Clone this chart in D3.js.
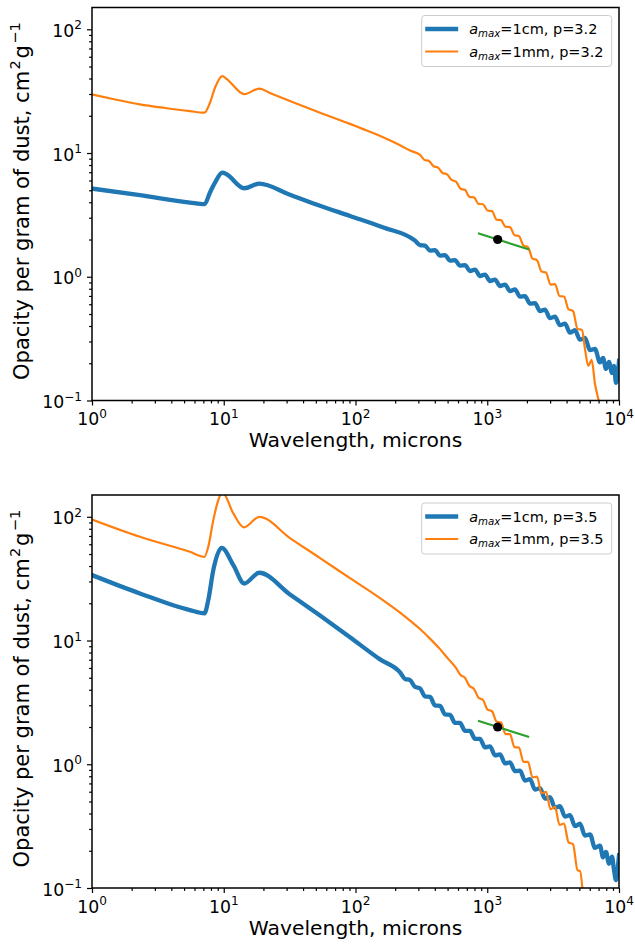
<!DOCTYPE html>
<html>
<head>
<meta charset="utf-8">
<script src="https://cdn.jsdelivr.net/npm/d3@7"></script>
<style>
  body { margin: 0; background: #fff; }
  text { font-family: "DejaVu Sans", sans-serif; fill: #000; }
</style>
</head>
<body>
<svg id="fig" width="635" height="944"></svg>
<script>

// [wavelength (microns), opacity (cm^2/g)]

// top panel, p=3.2
const cm_p32 = [[1,5.16],[2.31,4.56],[5.54,3.98],[7.14,3.86],[7.86,4.8],[8.58,5.77],[9.75,6.95],[10.5,6.73],
    [14.3,5.19],[18.6,5.66],[31.8,4.60],[53.8,3.75],[90.8,3.10],[163,2.50],
    [283,1.958],[309,1.802],[337,1.785],[368,1.627],[401,1.642],[438,1.483],[478,1.496],[522,1.351],
    [569,1.364],[621,1.231],[678,1.243],[740,1.112],[807,1.143],[881,1.013],[961,1.042],[1049,0.923],
    [1145,0.949],[1250,0.841],[1364,0.865],[1488,0.767],[1624,0.789],[1773,0.691],[1934,0.697],[2111,0.607],
    [2304,0.612],[2514,0.528],[2744,0.543],[2994,0.463],[3268,0.476],[3566,0.406],[3892,0.418],[4247,0.353],
    [4635,0.370],[5058,0.310],[5519,0.320],[6026,0.255],[6575,0.261],[7175,0.203],[7559,0.221],[7966,0.180],
    [8396,0.205],[8850,0.167],[9163,0.190],[9489,0.139],[9741,0.155],[10000,0.209]];

const mm_p32 = [[1,29.7],[1.5,27.1],[2.31,24.7],[3.58,23.1],[5.54,21.8],[7.14,21.2],[7.86,25.5],[8.58,33.7],
    [9.75,41.8],[10.5,39.8],[14.3,29.9],[18.6,33.2],[22.4,30.6],[31.8,26.3],[53.8,21.17],[90.8,17.2],
    [113,15.67],[140.6,14.31],[175,12.92],[217.7,11.56],[259.3,10.46],
    [309,9.654],[334,8.800],[361,8.638],[391,7.827],[423,7.627],[458,6.898],[495,6.722],[536,6.058],
    [579,5.881],[627,5.144],[678,5.040],[733,4.418],[793,4.377],[858,3.886],[928,3.857],[1004,3.432],
    [1087,3.394],[1176,2.893],[1272,2.866],[1376,2.540],[1488,2.517],[1610,2.169],[1742,2.129],[1884,1.785],
    [2038,1.736],[2205,1.402],[2385,1.364],[2581,1.101],[2792,1.081],[3021,0.865],[3268,0.873],[3535,0.699],
    [3824,0.692],[4138,0.545],[4476,0.529],[4842,0.379],[5238,0.372],[5519,0.261],[5848,0.1905],[6205,0.213],
    [6574,0.136],[6965,0.103],[7301,0.083]];

// bottom panel, p=3.5
const cm_p35 = [[1,33.8],[2.31,24.0],[5.54,17.6],[7.14,16.6],[7.63,21.2],[8.33,37.1],[9.65,56.1],[11.82,40.7],
    [14.3,28.9],[18.6,35.3],[31.8,23.6],[53.8,15.9],[90.8,10.63],[153.5,7.04],
    [218,5.522],[237.5,4.893],[259,4.803],[283,4.216],[309,4.108],[337,3.539],[368,3.507],[401,2.994],
    [438,2.966],[478,2.532],[522,2.508],[569,2.161],[621,2.161],[678,1.862],[740,1.862],[807,1.604],
    [881,1.604],[961,1.370],[1049,1.395],[1145,1.180],[1250,1.202],[1364,1.017],[1488,1.036],[1624,0.880],
    [1773,0.889],[1934,0.738],[2111,0.759],[2304,0.624],[2514,0.641],[2744,0.527],[2994,0.542],[3268,0.446],
    [3566,0.458],[3892,0.377],[4247,0.388],[4635,0.316],[5058,0.331],[5519,0.265],[6026,0.271],[6575,0.211],
    [7175,0.220],[7559,0.177],[7966,0.196],[8396,0.157],[8850,0.179],[9163,0.140],[9489,0.116],[9741,0.139],
    [10000,0.184]];

const mm_p35 = [[1,95],[2.31,68.9],[5.54,52.1],[7.14,47.5],[7.63,57.2],[8.33,94.0],[9.09,136.5],[9.75,158],
    [11.82,106.5],[14.24,82.1],[18.62,100],[31.8,67.3],[53.8,46.4],[90.8,31.9],[153.5,22.0],[217.7,16.8],
    [259.3,14.49],[308.9,12.4],[367.7,10.36],[437.9,8.52],[503.6,7.14],
    [579,6.016],[627,5.262],[678,4.995],[733,4.288],[793,4.070],[858,3.448],[928,3.310],[1004,2.768],
    [1087,2.682],[1176,2.214],[1272,2.174],[1376,1.754],[1488,1.751],[1610,1.375],[1742,1.362],[1884,1.044],
    [2038,1.046],[2205,0.782],[2385,0.795],[2581,0.583],[2792,0.598],[3021,0.434],[3268,0.452],[3535,0.324],
    [3824,0.332],[4138,0.234],[4476,0.226],[4842,0.139],[5058,0.137],[5332,0.0874]];

// reference slope line and the 1.2 mm point, same in both panels
const slope_line = [[850,2.25],[2080,1.66]];
const ref_point = [[1200,2.0]];

const x_ticks = [1, 10, 100, 1000, 10000];
const x_exps = ["0", "1", "2", "3", "4"];
const y_ticks = [0.1, 1, 10, 100];
const y_exps = ["\u22121", "0", "1", "2"];

const panels = [
    {top: 7.5, p: "3.2", cm: cm_p32, mm: mm_p32},
    {top: 495, p: "3.5", cm: cm_p35, mm: mm_p35},
];

const frame = {left: 92, right: 619, height: 393};
const colors = {cm: "#1f77b4", mm: "#ff7f0e", slope: "#2ca02c"};

const svg = d3.select("#fig");

function draw_panel(pn, i) {
    const bottom = pn.top + frame.height;
    const x = d3.scaleLog().domain([1, 1e4]).range([frame.left, frame.right]);
    const y = d3.scaleLog().domain([0.1, 150]).range([bottom, pn.top]);

    const g = svg.append("g").attr("class", "panel");

    g.append("clipPath").attr("id", "clip" + i)
        .append("rect")
            .attr("x", frame.left).attr("y", pn.top)
            .attr("width", frame.right - frame.left).attr("height", frame.height);

    const curve = d3.line().x(d => x(d[0])).y(d => y(d[1])).curve(d3.curveMonotoneX);
    const line = d3.line().x(d => x(d[0])).y(d => y(d[1]));
    const plot = g.append("g").attr("clip-path", "url(#clip" + i + ")");

    plot.append("path").datum(pn.cm)
        .attr("d", curve).attr("fill", "none")
        .attr("stroke", colors.cm).attr("stroke-width", 4.3)
        .attr("stroke-linejoin", "round").attr("stroke-linecap", "square");
    plot.append("path").datum(pn.mm)
        .attr("d", curve).attr("fill", "none")
        .attr("stroke", colors.mm).attr("stroke-width", 2.2)
        .attr("stroke-linejoin", "round").attr("stroke-linecap", "square");
    plot.append("path").datum(slope_line)
        .attr("d", line).attr("fill", "none")
        .attr("stroke", colors.slope).attr("stroke-width", 2.1);
    plot.selectAll("circle").data(ref_point).enter()
        .append("circle")
            .attr("cx", d => x(d[0])).attr("cy", d => y(d[1]))
            .attr("r", 4.6).attr("fill", "#000");

    // ticks: majors at decades, minors from the log scale
    const x_minor = x.ticks().filter(v => !x_ticks.includes(v));
    const y_minor = y.ticks().filter(v => !y_ticks.some(t => Math.abs(t - v) < 1e-9));

    const xa = g.append("g").attr("transform", "translate(0," + bottom + ")");
    xa.call(d3.axisBottom(x).tickValues(x_ticks).tickSize(5).tickFormat(""));
    xa.append("g").call(d3.axisBottom(x).tickValues(x_minor).tickSize(2.9).tickFormat(""));
    xa.selectAll(".domain").remove();
    xa.selectAll(".tick line").attr("stroke-width", 1.2);

    const ya = g.append("g").attr("transform", "translate(" + frame.left + ",0)");
    ya.call(d3.axisLeft(y).tickValues(y_ticks).tickSize(5).tickFormat(""));
    ya.append("g").call(d3.axisLeft(y).tickValues(y_minor).tickSize(2.9).tickFormat(""));
    ya.selectAll(".domain").remove();
    ya.selectAll(".tick line").attr("stroke-width", 1.2);

    g.append("rect")
        .attr("x", frame.left).attr("y", pn.top)
        .attr("width", frame.right - frame.left).attr("height", frame.height)
        .attr("fill", "none").attr("stroke", "#000").attr("stroke-width", 1.5);

    // tick labels as 10^n
    const xl = g.selectAll("text.xlab").data(x_ticks).enter()
        .append("text").attr("class", "xlab")
        .attr("x", d => x(d)).attr("y", bottom + 24.5)
        .attr("text-anchor", "middle").attr("font-size", 17.3);
    xl.append("tspan").text("10");
    xl.append("tspan").attr("dy", -7.5).attr("font-size", 12.1).text((d, j) => x_exps[j]);

    const yl = g.selectAll("text.ylab").data(y_ticks).enter()
        .append("text").attr("class", "ylab")
        .attr("x", 82).attr("y", d => y(d) + 7.5)
        .attr("text-anchor", "end").attr("font-size", 17.3);
    yl.append("tspan").text("10");
    yl.append("tspan").attr("dy", -7.5).attr("font-size", 12.1).text((d, j) => y_exps[j]);

    // axis titles
    g.append("text")
        .attr("x", (frame.left + frame.right) / 2).attr("y", bottom + 46.5)
        .attr("text-anchor", "middle").attr("font-size", 20.3)
        .text("Wavelength, microns");

    const yt = g.append("text")
        .attr("transform", "translate(28.5," + (pn.top + frame.height / 2 - 3) + ") rotate(-90)")
        .attr("text-anchor", "middle").attr("font-size", 21);
    yt.append("tspan").text("Opacity per gram of dust, cm");
    yt.append("tspan").attr("dx", 1.5).attr("dy", -8.5).attr("font-size", 14.7).text("2");
    yt.append("tspan").attr("dx", 1.5).attr("dy", 8.5).text("g");
    yt.append("tspan").attr("dx", 1.5).attr("dy", -8.5).attr("font-size", 14.7).text("\u22121");

    // legend
    const lg = g.append("g").attr("transform", "translate(421.7," + (pn.top + 8) + ")");
    lg.append("rect")
        .attr("width", 190).attr("height", 51).attr("rx", 3)
        .attr("fill", "#fff").attr("fill-opacity", 0.8)
        .attr("stroke", "#cccccc").attr("stroke-width", 1);

    const entries = [
        {size: "1cm", color: colors.cm, width: 4.3},
        {size: "1mm", color: colors.mm, width: 2.2},
    ];
    entries.forEach((e, j) => {
        const cy = 13.5 + j * 22.5;
        lg.append("line")
            .attr("x1", 3.5).attr("x2", 36.5).attr("y1", cy).attr("y2", cy)
            .attr("stroke", e.color).attr("stroke-width", e.width);
        const t = lg.append("text")
            .attr("x", 47.5).attr("y", cy + 5).attr("font-size", 14.5);
        t.append("tspan").attr("font-style", "italic").text("a");
        t.append("tspan").attr("font-style", "italic").attr("font-size", 10.2).attr("dy", 3).text("max");
        t.append("tspan").attr("dy", -3).text("=" + e.size + ", p=" + pn.p);
    });
}

panels.forEach(draw_panel);

</script>
</body>
</html>
